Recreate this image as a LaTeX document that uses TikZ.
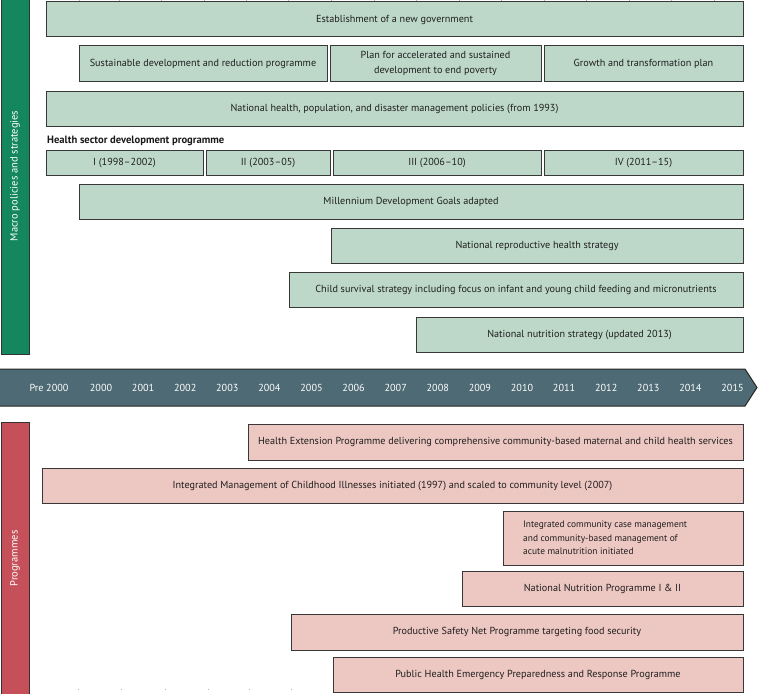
\documentclass[tikz,border=0pt]{standalone}
\usepackage{fontspec}
\setmainfont{PT Sans}
\begin{document}
\begin{tikzpicture}[x=1pt,y=-1pt,
  base/.style={inner sep=0pt, outer sep=0pt, draw=black!78, line width=1pt, font=\fontsize{10.2}{15}\selectfont, text=black!88},
  gbox/.style={base, fill=greenfill},
  pbox/.style={base, fill=pinkfill},
  sidebar/.style={inner sep=0pt, outer sep=0pt, draw=black!80, line width=1pt},
  sidelab/.style={text=white, rotate=90, font=\fontsize{10.5}{12}\selectfont},
  yearlab/.style={text=white, font=\fontsize{10.2}{12}\selectfont},
  tick/.style={draw=black!30, line width=0.4pt}
]
\definecolor{greenfill}{HTML}{BDD8C9}
\definecolor{pinkfill}{HTML}{EDC7C2}
\definecolor{greenbar}{HTML}{14875F}
\definecolor{redbar}{HTML}{C5505A}
\definecolor{timeline}{HTML}{4E6A74}
\useasboundingbox (0,0) rectangle (759,693);

\newcommand{\bx}[7]{\node[#1, minimum width={#5-#3}, minimum height={#6-#4}] (#2) at ({(#3+#5)/2},{(#4+#6)/2}) {#7};}

% top faint ticks
\foreach \x in {79,119,161,204,246,288,331,374,416,459,501,544,586,629,671,714}
  \draw[tick] (\x,0) -- (\x,2.5);
\foreach \x in {78,121,165,208,249,291}
  \draw[tick] (\x,688.5) -- (\x,690);

% side bars
\bx{sidebar, fill=greenbar}{macro}{1}{-2}{29}{354}{}
\node[sidelab] (macrolab) at (macro.center) {Macro policies and strategies};
\bx{sidebar, fill=redbar}{prog}{1}{422}{29}{695}{}
\node[sidelab] (proglab) at (prog.center) {Programmes};

% macro policies
\bx{gbox}{gov}{46}{2}{743}{37}{Establishment of a new government}
\bx{gbox}{sdrp}{79}{46}{327}{81}{Sustainable development and reduction programme}
\bx{gbox, align=center}{pasdep}{330}{46}{541}{81}{Plan for accelerated and sustained\\development to end poverty}
\bx{gbox}{gtp}{544}{46}{743}{81}{Growth and transformation plan}
\bx{gbox}{nhp}{46}{91}{743}{126}{National health, population, and disaster management policies (from 1993)}
\node[anchor=west, font=\fontsize{10.6}{12}\selectfont\bfseries, text=black!90, inner sep=0pt] (hsdp) at (47,141) {Health sector development programme};
\bx{gbox}{hI}{46}{150}{203}{175}{I (1998--2002)}
\bx{gbox}{hII}{206}{150}{330}{175}{II (2003--05)}
\bx{gbox}{hIII}{333}{150}{541}{175}{III (2006--10)}
\bx{gbox}{hIV}{544}{150}{743}{175}{IV (2011--15)}
\bx{gbox}{mdg}{79}{184}{743}{219}{Millennium Development Goals adapted}
\bx{gbox}{nrh}{331}{228}{743}{263}{National reproductive health strategy}
\bx{gbox}{css}{289}{272}{743}{307}{Child survival strategy including focus on infant and young child feeding and micronutrients}
\bx{gbox}{nns}{416}{317}{743}{352}{National nutrition strategy (updated 2013)}

% timeline
\path[fill=timeline, draw=black!85, line width=1pt] (-1,369) -- (745,369) -- (757,387.5) -- (745,406) -- (-1,406) -- cycle;
\node[yearlab] (ypre) at (49,387.5) {Pre 2000};
\foreach \k in {0,...,15} {
  \pgfmathtruncatemacro{\yr}{2000+\k}
  \node[yearlab] (y\yr) at ({101+42.1*\k},387.5) {\yr};
}

% programmes
\bx{pbox}{hep}{248}{424}{743}{460}{Health Extension Programme delivering comprehensive community-based maternal and child health services}
\bx{pbox}{imci}{42}{468}{743}{503}{Integrated Management of Childhood Illnesses initiated (1997) and scaled to community level (2007)}
\bx{pbox}{iccm}{503}{511}{743}{565}{}
\node[anchor=west, align=left, inner sep=0pt, font=\fontsize{9.4}{13.5}\selectfont, text=black!88] (iccmtext) at (523,538) {Integrated community case management\\and community-based management of\\acute malnutrition initiated};
\bx{pbox}{nnp}{462}{571}{743}{606}{National Nutrition Programme I \& II}
\bx{pbox}{psnp}{291}{614}{743}{650}{Productive Safety Net Programme targeting food security}
\bx{pbox}{phep}{333}{657}{743}{692}{Public Health Emergency Preparedness and Response Programme}
\end{tikzpicture}
\end{document}
